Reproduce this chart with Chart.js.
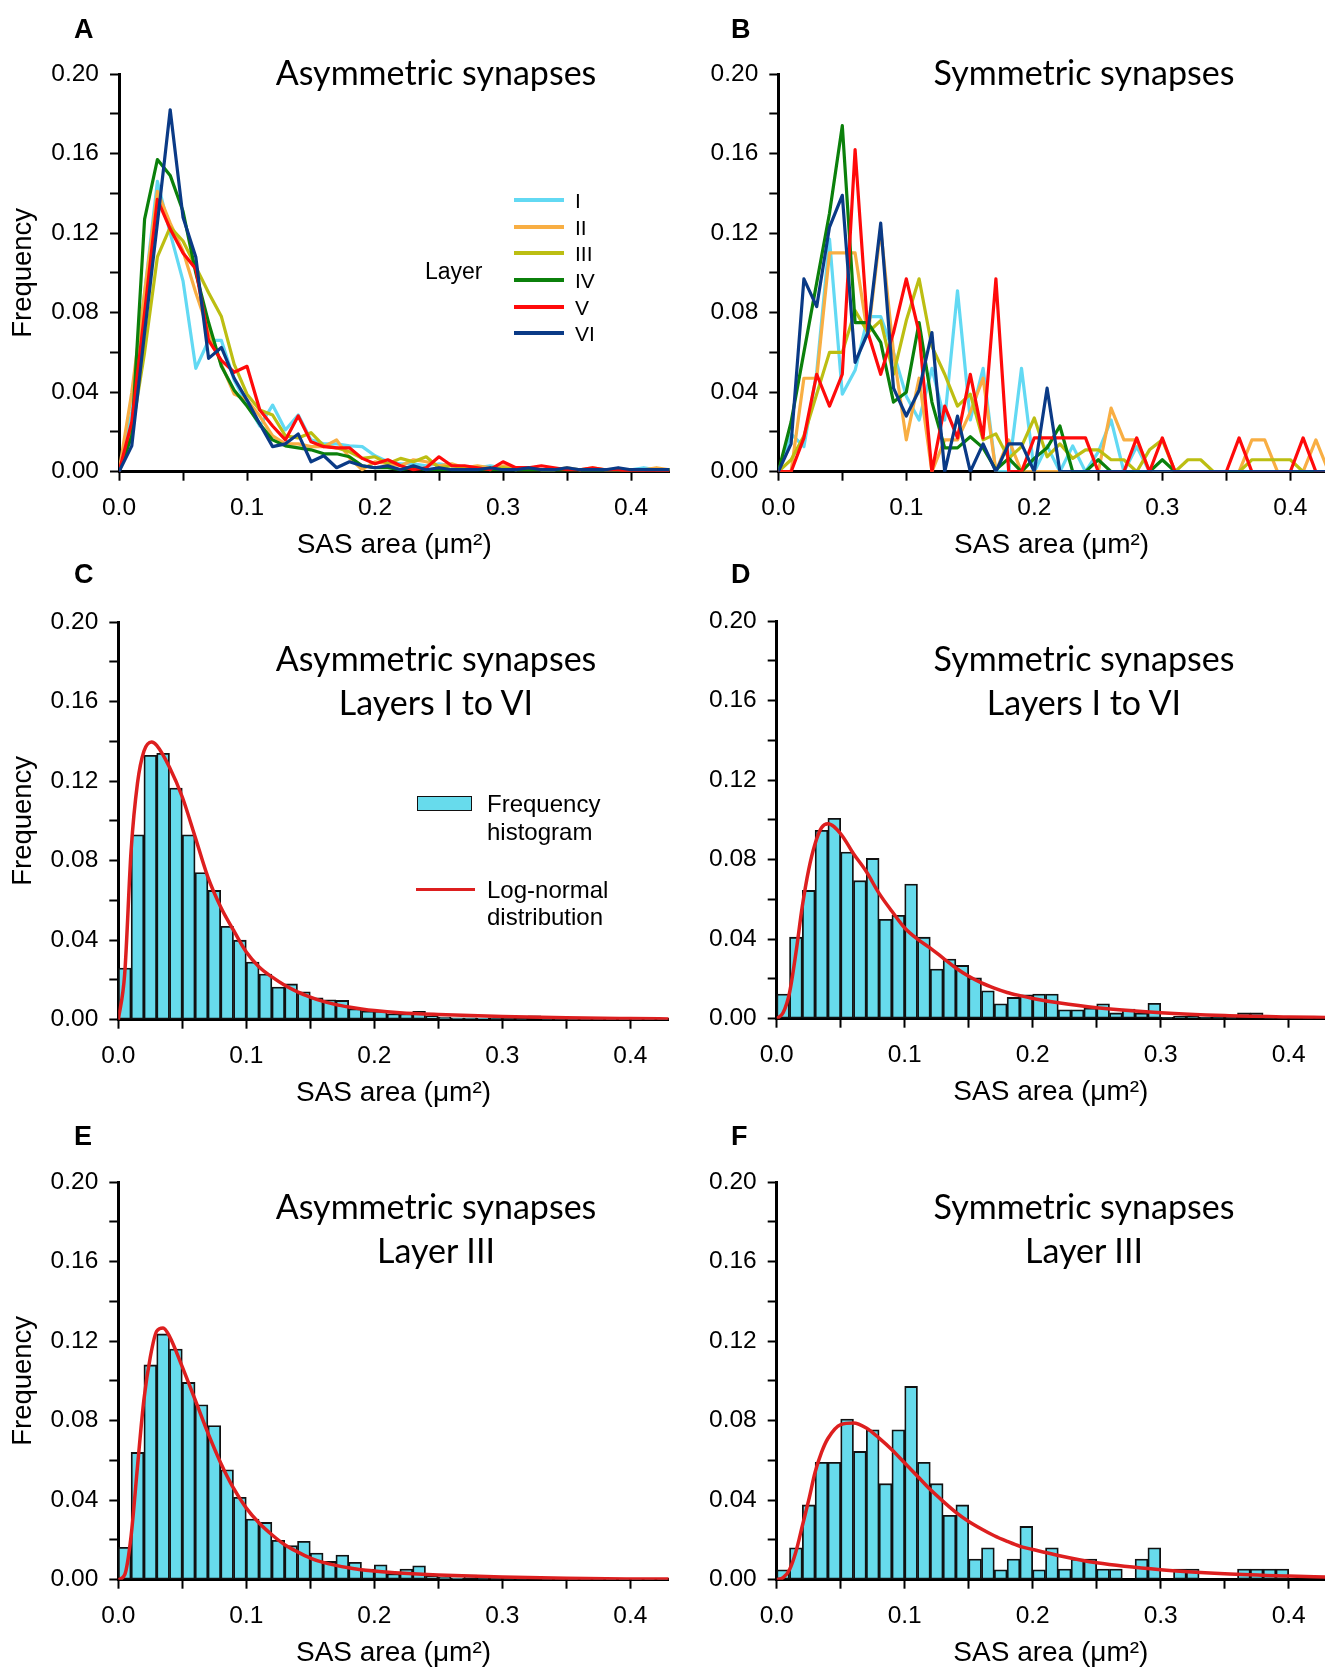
<!DOCTYPE html>
<html><head><meta charset="utf-8">
<script src="https://cdn.jsdelivr.net/npm/chart.js@4.4.1/dist/chart.umd.min.js"></script>
<style>
html,body{margin:0;padding:0;background:#fff;width:1325px;height:1667px;overflow:hidden;position:relative;}
canvas{position:absolute;}
.t{position:absolute;white-space:nowrap;color:#000;line-height:1;}
.letter{font-family:"Liberation Sans",Arial,sans-serif;font-weight:bold;font-size:27px;transform:translate(0,-50%);}
.title{font-family:Lato,"Open Sans",sans-serif;font-size:34px;transform:translate(-50%,-50%);}
.leg{font-family:"Liberation Sans",Arial,sans-serif;transform:translate(0,-50%);}
.swatch{position:absolute;}
</style></head><body>
<script>
// ---------- DATA ----------
const xPoints = [0.00,0.01,0.02,0.03,0.04,0.05,0.06,0.07,0.08,0.09,0.10,0.11,0.12,0.13,0.14,0.15,0.16,0.17,0.18,0.19,0.20,0.21,0.22,0.23,0.24,0.25,0.26,0.27,0.28,0.29,0.30,0.31,0.32,0.33,0.34,0.35,0.36,0.37,0.38,0.39,0.40,0.41,0.42,0.43];
const layerNames = ['I','II','III','IV','V','VI'];

// Panel A: asymmetric synapses by layer
const asymI   = [0,0.03,0.09,0.146,0.12,0.096,0.052,0.066,0.066,0.046,0.034,0.023,0.0335,0.021,0.0285,0.016,0.014,0.014,0.013,0.0126,0.008,0.005,0.004,0.004,0.003,0.004,0.003,0.002,0.002,0.003,0.002,0.001,0.002,0.001,0.001,0.002,0.001,0.001,0.001,0.001,0.001,0.002,0.001,0.001];
const asymII  = [0,0.04,0.09,0.141,0.125,0.111,0.09,0.071,0.054,0.039,0.036,0.028,0.018,0.014,0.014,0.0126,0.0126,0.016,0.007,0.001,0.005,0.004,0.003,0.006,0.005,0.003,0.004,0.002,0.003,0.002,0.003,0.002,0.002,0.001,0.001,0.002,0.001,0.002,0.001,0.001,0.001,0.001,0.002,0.001];
const asymIII = [0,0.02,0.06,0.108,0.123,0.116,0.103,0.09,0.078,0.054,0.039,0.031,0.0285,0.018,0.017,0.0196,0.013,0.012,0.01,0.0067,0.0075,0.004,0.0067,0.005,0.0075,0.002,0.003,0.002,0.002,0.001,0.002,0.001,0.001,0.001,0.001,0.001,0.001,0.001,0.001,0.001,0.001,0.001,0.001,0.001];
const asymIV  = [0,0.018,0.127,0.157,0.149,0.131,0.10,0.075,0.053,0.041,0.033,0.024,0.016,0.013,0.012,0.011,0.009,0.009,0.0075,0.003,0.002,0.002,0.001,0.002,0.001,0.001,0.001,0.001,0.001,0.001,0.001,0.001,0.001,0.001,0.001,0.001,0.001,0.001,0.001,0.001,0.001,0.001,0.001,0.001];
const asymV   = [0,0.025,0.08,0.137,0.122,0.11,0.102,0.066,0.056,0.05,0.053,0.031,0.023,0.016,0.028,0.015,0.0126,0.012,0.012,0.0067,0.004,0.006,0.003,0.001,0.002,0.0075,0.003,0.003,0.002,0.001,0.005,0.002,0.002,0.003,0.002,0.001,0.001,0.002,0.001,0.001,0,0,0,0];
const asymVI  = [0,0.013,0.07,0.125,0.182,0.128,0.108,0.057,0.0625,0.047,0.036,0.024,0.0126,0.014,0.019,0.005,0.008,0.002,0.005,0.003,0.002,0.003,0.001,0.003,0.001,0.002,0.001,0.001,0.001,0.002,0.001,0.001,0.002,0.001,0.001,0.002,0.001,0.001,0.001,0.002,0.001,0.001,0.001,0.001];

// Panel B: symmetric synapses by layer
const symI   = [0,0.019,0.0126,0.05,0.117,0.039,0.051,0.078,0.078,0.06,0.038,0.026,0.052,0.026,0.091,0.026,0.052,0,0,0.052,0,0.013,0,0.013,0,0.01,0.026,0,0.0126,0,0,0,0,0,0,0,0,0,0,0,0,0,0,0];
const symII  = [0,0,0.047,0.047,0.11,0.11,0.11,0.068,0.122,0.06,0.016,0.047,0,0.016,0.016,0.03,0.047,0,0.016,0,0,0,0,0,0,0,0.032,0.016,0.016,0,0,0,0,0,0,0,0,0.016,0.016,0,0,0,0.016,0];
const symIII = [0,0.006,0.018,0.039,0.06,0.06,0.081,0.07,0.076,0.049,0.076,0.097,0.063,0.049,0.033,0.039,0.016,0.019,0.0067,0.0126,0.027,0.0075,0.014,0.0067,0.011,0.011,0.006,0.006,0,0.011,0.016,0,0.006,0.006,0,0,0,0.006,0.006,0.006,0.006,0,0,0];
const symIV  = [0,0.025,0.06,0.095,0.13,0.174,0.075,0.075,0.065,0.035,0.040,0.075,0.035,0.012,0.012,0.0176,0.012,0.001,0.0067,0,0.0067,0.012,0.023,0,0,0.006,0,0,0,0,0.006,0,0,0,0,0,0,0,0,0,0,0,0,0];
const symV   = [0,0,0.017,0.049,0.033,0.049,0.162,0.07,0.049,0.07,0.097,0.07,0,0.033,0.017,0.049,0.017,0.097,0,0,0.017,0.017,0.017,0.017,0.017,0,0,0,0.017,0,0.017,0,0,0,0,0,0.017,0,0,0,0,0.017,0,0];
const symVI  = [0,0.014,0.097,0.083,0.123,0.139,0.055,0.07,0.125,0.042,0.028,0.041,0.07,0,0.028,0,0.014,0,0.014,0.014,0,0.042,0,0,0,0,0,0,0,0,0,0,0,0,0,0,0,0,0,0,0,0,0,0];

// Histograms (bin width 0.01)
const binCenters = [0.005,0.015,0.025,0.035,0.045,0.055,0.065,0.075,0.085,0.095,0.105,0.115,0.125,0.135,0.145,0.155,0.165,0.175,0.185,0.195,0.205,0.215,0.225,0.235,0.245,0.255,0.265,0.275,0.285,0.295,0.305,0.315,0.325,0.335,0.345,0.355,0.365,0.375,0.385,0.395,0.405,0.415,0.425];
const asymAllHist = [0.026,0.093,0.133,0.134,0.1165,0.093,0.074,0.065,0.047,0.040,0.029,0.023,0.0164,0.018,0.014,0.011,0.010,0.0097,0.0055,0.0044,0.0044,0.003,0.003,0.0042,0.0018,0.0013,0.001,0.001,0.0008,0.0006,0.0005,0.0004,0.002,0.0003,0.0003,0.0002,0.0002,0.0002,0.0001,0.0001,0.0001,0.0001,0.0001];
const symAllHist  = [0.0124,0.041,0.0645,0.0947,0.1008,0.0838,0.0694,0.0806,0.050,0.052,0.0677,0.041,0.025,0.030,0.0268,0.0205,0.014,0.0075,0.0107,0.012,0.0124,0.0124,0.0045,0.0045,0.0054,0.0075,0.0029,0.0049,0.0029,0.0077,0.0005,0.0012,0.0012,0.0005,0.0005,0.0005,0.0029,0.0029,0.0005,0.0005,0.0005,0.0005,0.0005];
const asymL3Hist  = [0.0163,0.064,0.108,0.1236,0.116,0.0992,0.088,0.0775,0.0553,0.0414,0.0305,0.0288,0.0198,0.0171,0.0193,0.0134,0.0092,0.0124,0.0087,0.0054,0.0075,0.003,0.0054,0.007,0.0017,0.0013,0.001,0.0023,0.0005,0.0005,0.0005,0.0005,0.0017,0.0003,0.0003,0.0002,0.0002,0.0002,0.0001,0.0001,0.0001,0.0001,0.0001];
const symL3Hist   = [0.005,0.016,0.0376,0.059,0.059,0.0808,0.0645,0.0754,0.0483,0.0754,0.0972,0.059,0.0483,0.0324,0.0376,0.0104,0.016,0.005,0.0104,0.0268,0.005,0.016,0.0054,0.0104,0.0104,0.0054,0.0054,0,0.0104,0.016,0,0.0054,0.0054,0,0,0,0.0054,0.0054,0.0054,0.0054,0,0,0];

// Log-normal fits
const asymAllFitX = [0,0.005,0.01,0.015,0.02,0.026,0.03,0.04,0.05,0.06,0.07,0.08,0.09,0.10,0.11,0.12,0.13,0.14,0.15,0.16,0.17,0.18,0.19,0.20,0.22,0.25,0.30,0.35,0.40,0.43];
const asymAllFitY = [0,0.023,0.085,0.119,0.135,0.1397,0.138,0.127,0.112,0.092,0.0717,0.0567,0.045,0.034,0.0265,0.0215,0.0173,0.014,0.0114,0.0092,0.0076,0.0064,0.0054,0.0046,0.0035,0.0026,0.0016,0.001,0.0006,0.0004];
const symAllFitX  = [0,0.005,0.01,0.015,0.02,0.025,0.03,0.035,0.04,0.05,0.06,0.07,0.08,0.09,0.10,0.11,0.12,0.13,0.14,0.15,0.16,0.17,0.18,0.19,0.20,0.22,0.25,0.30,0.35,0.40,0.43];
const symAllFitY  = [0,0.003,0.013,0.033,0.0565,0.075,0.088,0.096,0.098,0.093,0.083,0.074,0.063,0.054,0.0456,0.040,0.0355,0.0305,0.0255,0.0213,0.018,0.0154,0.0132,0.0116,0.0102,0.008,0.0055,0.003,0.0016,0.0009,0.0006];
const asymL3FitX  = [0,0.005,0.01,0.015,0.02,0.025,0.03,0.035,0.04,0.05,0.06,0.07,0.08,0.09,0.10,0.11,0.12,0.13,0.14,0.15,0.16,0.17,0.18,0.19,0.20,0.22,0.25,0.30,0.35,0.40,0.43];
const asymL3FitY  = [0,0.0025,0.022,0.057,0.0905,0.112,0.125,0.1266,0.1224,0.107,0.0905,0.0738,0.0587,0.046,0.036,0.0285,0.0226,0.0176,0.014,0.0109,0.0087,0.0072,0.006,0.005,0.0044,0.0034,0.0024,0.0013,0.0007,0.0004,0.0003];
const symL3FitX   = [0,0.005,0.01,0.015,0.02,0.025,0.03,0.035,0.04,0.05,0.06,0.07,0.08,0.09,0.10,0.11,0.12,0.13,0.14,0.15,0.16,0.17,0.18,0.19,0.20,0.22,0.25,0.30,0.35,0.40,0.43];
const symL3FitY   = [0,0.001,0.005,0.014,0.027,0.040,0.054,0.064,0.071,0.078,0.0788,0.0763,0.0712,0.0654,0.0587,0.052,0.0453,0.0394,0.0339,0.0293,0.0255,0.0221,0.0193,0.0168,0.0152,0.0122,0.0085,0.005,0.003,0.0018,0.0013];

// Tick labels
const xTickLabels = ['0.0','0.1','0.2','0.3','0.4'];
const yTickLabels = ['0.00','0.04','0.08','0.12','0.16','0.20'];
const xAxisTitle = 'SAS area (\u03BCm\u00B2)';
const yAxisTitle = 'Frequency';

// ---------- STYLE ----------
const layerColors = ['#62d9f3','#f8ae43','#bcbe12','#0b800b','#ff0a0a','#0a3a86'];
const barFill = '#67dbec';
const fitColor = '#dd1f1f';
const FONT = '"Liberation Sans", Arial, sans-serif';
Chart.defaults.font.family = FONT;
Chart.defaults.color = '#000';

function addText(cls, text, x, y, extraStyle) {
  const d = document.createElement('div');
  d.className = 't ' + cls;
  d.textContent = text;
  d.style.left = x + 'px';
  d.style.top = y + 'px';
  if (extraStyle) Object.assign(d.style, extraStyle);
  document.body.appendChild(d);
  return d;
}

function xLabel(v) {
  const k = Math.round(v / 0.1);
  return Math.abs(v - k * 0.1) < 1e-6 && k < xTickLabels.length ? xTickLabels[k] : '';
}
function yLabel(v) {
  const k = Math.round(v / 0.04);
  return Math.abs(v - k * 0.04) < 1e-6 && k < yTickLabels.length ? yTickLabels[k] : '';
}

function makePanel(p, datasets) {
  const cv = document.createElement('canvas');
  const cTop = p.areaTop - 40;
  const cH = (p.areaBottom - p.areaTop) + 40 + 90;
  cv.width = p.cW; cv.height = Math.round(cH);
  cv.style.left = p.cLeft + 'px';
  cv.style.top = cTop + 'px';
  document.body.appendChild(cv);
  const yW = p.areaLeft - p.cLeft;
  const xMax = p.xMax;
  const padRight = p.cW - (p.areaLeft - p.cLeft) - xMax * 1280;
  new Chart(cv, {
    type: 'line',
    data: { datasets },
    options: {
      responsive: false, animation: false, devicePixelRatio: 1,
      layout: { padding: { left: 0, top: 40, right: Math.max(0, padRight), bottom: Math.round(cH) - cH } },
      plugins: { legend: { display: false }, tooltip: { enabled: false } },
      elements: { point: { radius: 0 } },
      scales: {
        x: {
          type: 'linear', min: 0, max: xMax, offset: false,
          afterFit: s => { s.height = 90; },
          border: { display: true, color: '#000', width: 3 },
          grid: { display: true, drawOnChartArea: false, drawTicks: true, tickLength: 9, tickWidth: 2, tickColor: '#000', offset: false },
          ticks: { stepSize: 0.05, includeBounds: false, autoSkip: false, maxRotation: 0, minRotation: 0, padding: 13, color: '#000', font: { family: FONT, size: 24.5 }, callback: v => xLabel(v) },
          title: { display: true, text: xAxisTitle, color: '#000', font: { family: FONT, size: 28 }, padding: { top: 0, bottom: 0 } }
        },
        y: {
          type: 'linear', min: 0, max: 0.2,
          afterFit: s => { s.width = yW; },
          border: { display: true, color: '#000', width: 3 },
          grid: { display: true, drawOnChartArea: false, drawTicks: true, tickLength: 9, tickWidth: 2, tickColor: '#000' },
          ticks: { stepSize: 0.02, autoSkip: false, padding: 11, color: '#000', font: { family: FONT, size: 24.5 }, callback: v => yLabel(v) },
          title: { display: p.yTitle, text: yAxisTitle, color: '#000', font: { family: FONT, size: 27.5 }, padding: { top: 7, bottom: 0 } }
        }
      }
    }
  });
}

function layerDatasets(series) {
  return series.map((s, i) => ({
    type: 'line', label: layerNames[i],
    data: xPoints.map((x, j) => ({ x, y: s[j] })),
    borderColor: layerColors[i], borderWidth: 3.2, tension: 0, pointRadius: 0,
    borderJoinStyle: 'round', borderCapStyle: 'round',
    order: series.length - 1 - i
  }));
}
function histDatasets(hist, fitX, fitY) {
  return [
    { type: 'line', label: 'Log-normal distribution', data: fitX.map((x, j) => ({ x, y: fitY[j] })),
      borderColor: fitColor, borderWidth: 3.5, pointRadius: 0, cubicInterpolationMode: 'monotone', order: 0 },
    { type: 'bar', label: 'Frequency histogram', data: binCenters.map((x, j) => ({ x, y: hist[j] })),
      backgroundColor: barFill, borderColor: '#111', borderWidth: 1.8, borderSkipped: false,
      barPercentage: 1, categoryPercentage: 1, order: 1 }
  ];
}

const L = { cLeft: 0, cW: 680 }, R = { cLeft: 680, cW: 645 };
makePanel(Object.assign({}, L, { areaLeft: 119, areaTop: 74, areaBottom: 471.7, xMax: 0.43, yTitle: true }),
  layerDatasets([asymI, asymII, asymIII, asymIV, asymV, asymVI]));
makePanel(Object.assign({}, R, { areaLeft: 778.3, areaTop: 74, areaBottom: 471.7, xMax: (1325 - 778.3) / 1280, yTitle: false }),
  layerDatasets([symI, symII, symIII, symIV, symV, symVI]));
makePanel(Object.assign({}, L, { areaLeft: 118.3, areaTop: 621.6, areaBottom: 1019.3, xMax: 0.43, yTitle: true }),
  histDatasets(asymAllHist, asymAllFitX, asymAllFitY));
makePanel(Object.assign({}, R, { areaLeft: 776.7, areaTop: 621.3, areaBottom: 1019, xMax: (1325 - 776.7) / 1280, yTitle: false }),
  histDatasets(symAllHist, symAllFitX, symAllFitY));
makePanel(Object.assign({}, L, { areaLeft: 118.3, areaTop: 1182.3, areaBottom: 1580, xMax: 0.43, yTitle: true }),
  histDatasets(asymL3Hist, asymL3FitX, asymL3FitY));
makePanel(Object.assign({}, R, { areaLeft: 776.7, areaTop: 1182.3, areaBottom: 1580, xMax: (1325 - 776.7) / 1280, yTitle: false }),
  histDatasets(symL3Hist, symL3FitX, symL3FitY));

// ---------- TEXT ----------
addText('letter', 'A', 74, 29); addText('letter', 'B', 731, 29);
addText('letter', 'C', 74, 574); addText('letter', 'D', 731, 574);
addText('letter', 'E', 74, 1136); addText('letter', 'F', 731, 1136);

addText('title', 'Asymmetric synapses', 436, 72);
addText('title', 'Symmetric synapses', 1084, 72);
addText('title', 'Asymmetric synapses', 436, 658);
addText('title', 'Layers I to VI', 436, 702);
addText('title', 'Symmetric synapses', 1084, 658);
addText('title', 'Layers I to VI', 1084, 702);
addText('title', 'Asymmetric synapses', 436, 1206);
addText('title', 'Layer III', 436, 1250);
addText('title', 'Symmetric synapses', 1084, 1206);
addText('title', 'Layer III', 1084, 1250);

// Legend A
addText('leg', 'Layer', 425, 271, { fontSize: '23px' });
const legY = [200, 226.7, 253.3, 280, 306.7, 333.3];
layerNames.forEach((n, i) => {
  const sw = document.createElement('div');
  sw.className = 'swatch';
  Object.assign(sw.style, { left: '514px', top: (legY[i] - 2) + 'px', width: '50px', height: '4px', background: layerColors[i] });
  document.body.appendChild(sw);
  addText('leg', n, 575, legY[i], { fontSize: '21px' });
});

// Legend C
const box = document.createElement('div');
box.className = 'swatch';
Object.assign(box.style, { left: '417px', top: '796px', width: '53px', height: '13px', background: barFill, border: '1.8px solid #111' });
document.body.appendChild(box);
addText('leg', 'Frequency', 487, 804, { fontSize: '24px' });
addText('leg', 'histogram', 487, 832, { fontSize: '24px' });
const ln = document.createElement('div');
ln.className = 'swatch';
Object.assign(ln.style, { left: '416px', top: '887.5px', width: '59px', height: '3.5px', background: fitColor });
document.body.appendChild(ln);
addText('leg', 'Log-normal', 487, 890, { fontSize: '24px' });
addText('leg', 'distribution', 487, 917, { fontSize: '24px' });
</script>
</body></html>
